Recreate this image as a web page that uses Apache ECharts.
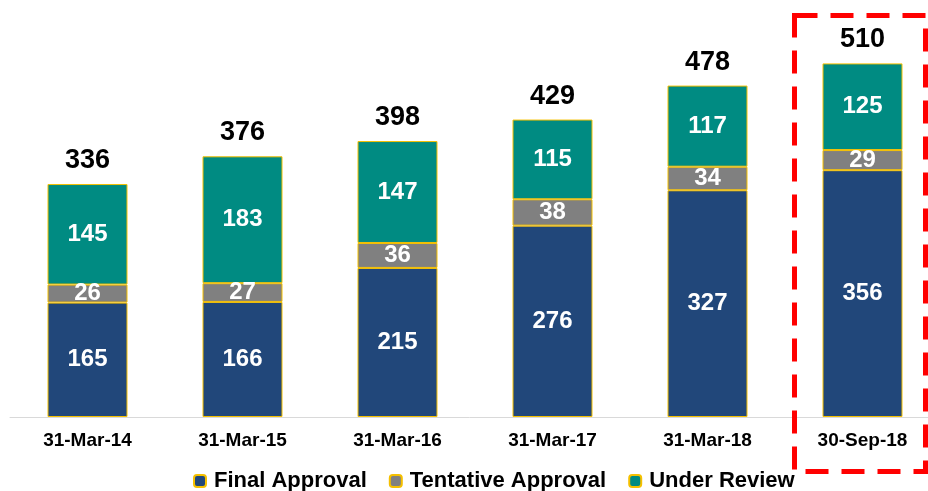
<!DOCTYPE html>
<html>
<head>
<meta charset="utf-8">
<script src="https://cdn.jsdelivr.net/npm/echarts@6/dist/echarts.min.js"></script>
<style>
  html, body { margin: 0; padding: 0; background: #fff; }
  #chart { width: 928px; height: 491px; }
</style>
</head>
<body>
<div id="chart"></div>
<script>
 let categories = ['31-Mar-14', '31-Mar-15', '31-Mar-16', '31-Mar-17', '31-Mar-18', '30-Sep-18'];
 let finalApproval = [165, 166, 215, 276, 327, 356];
 let tentativeApproval = [26, 27, 36, 38, 34, 29];
 let underReview = [145, 183, 147, 115, 117, 125];
 // totals on top of each stack
 let totals = categories.map(function (c, i) {
     return finalApproval[i] + tentativeApproval[i] + underReview[i];
 });

 let fontFamily = '"Liberation Sans", Arial, sans-serif';
 let chart = echarts.init(document.getElementById('chart'));

 function stackSeries(name, data, color) {
     return {
         name: name,
         type: 'bar',
         stack: 'total',
         barWidth: 80,
         data: data,
         itemStyle: {
             color: color,
             borderColor: '#F5C000',
             borderWidth: 1
         },
         label: {
             show: true,
             position: 'inside',
             color: '#fff',
             fontWeight: 'bold',
             fontSize: 24,
             fontFamily: fontFamily
         }
     };
 }

 let option = {
     animation: false,
     grid: { left: 10, width: 930, top: 1, bottom: 74, outerBoundsMode: 'none', containLabel: false },
     legend: {
         data: ['Final Approval', 'Tentative Approval', 'Under Review'],
         left: 188,
         top: 465,
         itemWidth: 12,
         itemHeight: 12,
         itemGap: 22,
         textStyle: { fontSize: 22, fontWeight: 'bold', color: '#000', fontFamily: fontFamily, padding: [0, 0, 0, 3] }
     },
     xAxis: {
         type: 'category',
         data: categories,
         axisLine: { lineStyle: { color: '#d9d9d9', width: 1 } },
         axisTick: { show: false },
         axisLabel: {
             color: '#000',
             fontWeight: 'bold',
             fontSize: 19,
             fontFamily: fontFamily,
             margin: 14
         }
     },
     yAxis: {
         type: 'value',
         min: 0,
         max: 600,
         show: false,
         splitLine: { show: false }
     },
     series: [
         stackSeries('Final Approval', finalApproval, '#21477A'),
         stackSeries('Tentative Approval', tentativeApproval, '#808080'),
         stackSeries('Under Review', underReview, '#008B82'),
         {
             name: 'Total',
             type: 'bar',
             barWidth: 80,
             barGap: '-100%',
             data: totals,
             z: 0,
             itemStyle: { color: 'rgba(0,0,0,0)' },
             label: {
                 show: true,
                 position: 'top',
                 distance: 10,
                 color: '#000',
                 fontWeight: 'bold',
                 fontSize: 27,
                 fontFamily: fontFamily
             }
         }
     ]
 };
 chart.setOption(option);

 // red dashed highlight box around the last period
 let last = categories.length - 1;
 let basePt = chart.convertToPixel({ xAxisIndex: 0, yAxisIndex: 0 }, [last, 0]);
 chart.setOption({
     graphic: [{
         type: 'rect',
         shape: { x: basePt[0] - 68, y: 15.5, width: 131, height: 456 },
         style: { fill: 'none', stroke: '#FF0000', lineWidth: 5, lineDash: [23, 13] },
         z: 10
     }]
 });
</script>
</body>
</html>
